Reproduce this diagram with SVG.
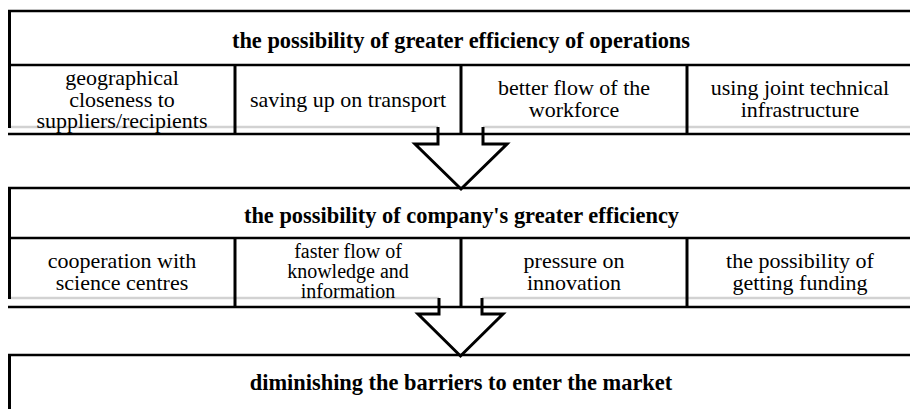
<svg xmlns="http://www.w3.org/2000/svg" width="910" height="409" viewBox="0 0 910 409">
<style>
.ln{stroke:#000;stroke-width:2.5;fill:none}
.vl{stroke:#000;stroke-width:3;fill:none}
.gr{stroke:#d2d2d2;stroke-width:2.5;fill:none}
.hd{font-family:"Liberation Serif","Times New Roman",serif;font-weight:bold;font-size:22.4px;text-anchor:middle;fill:#000}
.tx{font-family:"Liberation Serif","Times New Roman",serif;font-size:22px;text-anchor:middle;fill:#000}
.sm{font-size:20px}
.ar{stroke:#000;stroke-width:3;fill:#fff;stroke-linejoin:miter}
</style>
<rect width="910" height="409" fill="#fff"/>
<!-- gray background lines -->
<line class="gr" x1="9" y1="127" x2="438" y2="127"/>
<line class="gr" x1="483" y1="127" x2="910" y2="127"/>
<line class="gr" x1="9" y1="298" x2="439" y2="298"/>
<line class="gr" x1="482" y1="298" x2="910" y2="298"/>

<g id="connectors">
<polyline class="ar" points="438,127 438,144 415,144 461,189 507,144 483,144 483,127"/>
<polyline class="ar" points="439,298 439,314 418,314 460.5,356 503,314 482,314 482,298"/>
</g>

<g id="box1">
<line class="ln" x1="8" y1="11" x2="910" y2="11"/>
<line class="vl" x1="9.5" y1="10" x2="9.5" y2="128"/>
<line class="ln" x1="8" y1="65" x2="910" y2="65"/>
<line class="ln" x1="8" y1="134" x2="910" y2="134"/>
<text class="hd" x="461" y="48">the possibility of greater efficiency of operations</text>
</g>
<g id="cell1a">
<line class="vl" x1="235" y1="65" x2="235" y2="135"/>
<text class="tx" x="122" y="85">geographical</text>
<text class="tx" x="122" y="107">closeness to</text>
<text class="tx" x="122" y="128">suppliers/recipients</text>
</g>
<g id="cell1b">
<line class="vl" x1="461" y1="65" x2="461" y2="135"/>
<text class="tx" x="348" y="107">saving up on transport</text>
</g>
<g id="cell1c">
<line class="vl" x1="687" y1="65" x2="687" y2="135"/>
<text class="tx" x="574" y="95">better flow of the</text>
<text class="tx" x="574" y="117">workforce</text>
</g>
<g id="cell1d">
<text class="tx" x="800" y="95">using joint technical</text>
<text class="tx" x="800" y="117">infrastructure</text>
</g>

<g id="box2">
<line class="ln" x1="8" y1="188" x2="910" y2="188"/>
<line class="vl" x1="9.5" y1="187" x2="9.5" y2="299"/>
<line class="ln" x1="8" y1="238" x2="910" y2="238"/>
<line class="ln" x1="8" y1="307" x2="910" y2="307"/>
<text class="hd" x="461.5" y="223">the possibility of company's greater efficiency</text>
</g>
<g id="cell2a">
<line class="vl" x1="235" y1="238" x2="235" y2="308"/>
<text class="tx" x="122" y="268">cooperation with</text>
<text class="tx" x="122" y="290">science centres</text>
</g>
<g id="cell2b">
<line class="vl" x1="461" y1="238" x2="461" y2="308"/>
<text class="tx sm" x="348" y="258">faster flow of</text>
<text class="tx sm" x="348" y="278">knowledge and</text>
<text class="tx sm" x="348" y="298">information</text>
</g>
<g id="cell2c">
<line class="vl" x1="687" y1="238" x2="687" y2="308"/>
<text class="tx" x="574" y="268">pressure on</text>
<text class="tx" x="574" y="290">innovation</text>
</g>
<g id="cell2d">
<text class="tx" x="800" y="268">the possibility of</text>
<text class="tx" x="800" y="290">getting funding</text>
</g>

<g id="box3">
<line class="ln" x1="8" y1="355" x2="910" y2="355"/>
<line class="vl" x1="9.5" y1="354" x2="9.5" y2="409"/>
<text class="hd" x="461" y="390">diminishing the barriers to enter the market</text>
</g>
</svg>
